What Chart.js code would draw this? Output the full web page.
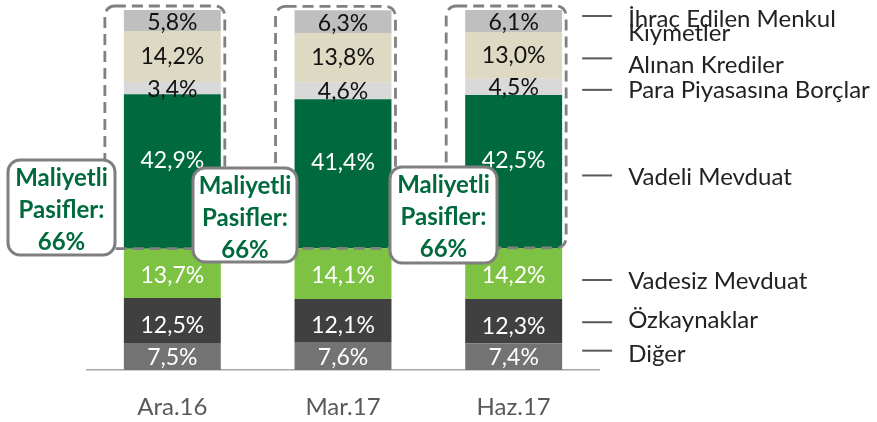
<!DOCTYPE html>
<html><head><meta charset="utf-8">
<script src="https://cdn.jsdelivr.net/npm/chart.js@4.4.1/dist/chart.umd.min.js"></script>
<style>html,body{margin:0;padding:0;background:#fff;}#wrap{width:877px;height:422px;}</style>
</head><body><div id="wrap"><canvas id="c" width="877" height="422"></canvas></div>
<script>
const categories = ['Ara.16', 'Mar.17', 'Haz.17'];
const diger      = [7.5, 7.6, 7.4];
const ozkaynak   = [12.5, 12.1, 12.3];
const vadesiz    = [13.7, 14.1, 14.2];
const vadeli     = [42.9, 41.4, 42.5];
const para       = [3.4, 4.6, 4.5];
const alinan     = [14.2, 13.8, 13.0];
const ihrac      = [5.8, 6.3, 6.1];
const seriesNames = ['Diğer', 'Özkaynaklar', 'Vadesiz Mevduat', 'Vadeli Mevduat', 'Para Piyasasına Borçlar', 'Alınan Krediler', 'İhraç Edilen Menkul Kıymetler'];
const legendLines = [['Diğer'], ['Özkaynaklar'], ['Vadesiz Mevduat'], ['Vadeli Mevduat'], ['Para Piyasasına Borçlar'], ['Alınan Krediler'], ['İhraç Edilen Menkul', 'Kıymetler']];
const calloutText = ['Maliyetli', 'Pasifler:', '66%'];

const colors = ['#737373', '#404040', '#7dc242', '#006a3e', '#d9d9d9', '#ddd9c3', '#bfbfbf'];
const labelColors = ['#fff', '#fff', '#fff', '#fff', '#111', '#111', '#111'];
const labelNudge = [1, 5, 2, -11, 1, 0, 2];
const legendLineNudge = [-6, 1, 6.5, 4, 3, 3, -5];
const legendTextNudge = [-2, -1, 8, 6, 3, 10, -2];
const calloutBoxes = [[8, 160, 107, 95], [193, 168, 104, 94], [390, 167, 107, 96]];
const FONT = 'Lato, "Open Sans", sans-serif';

const allSeries = [diger, ozkaynak, vadesiz, vadeli, para, alinan, ihrac];

const overlay = {
  id: 'overlay',
  afterDatasetsDraw(chart) {
    const ctx = chart.ctx;
    const metas = allSeries.map((_, i) => chart.getDatasetMeta(i));
    // data labels
    ctx.save();
    ctx.font = '23px ' + FONT;
    ctx.textAlign = 'center';
    ctx.textBaseline = 'middle';
    metas.forEach((m, di) => {
      m.data.forEach((el, i) => {
        const v = allSeries[di][i];
        ctx.fillStyle = labelColors[di];
        ctx.fillText(v.toFixed(1).replace('.', ',') + '%', el.x, (el.y + el.base) / 2 + labelNudge[di]);
      });
    });
    ctx.restore();
    // dashed boxes
    ctx.save();
    ctx.strokeStyle = '#808080';
    ctx.lineWidth = 2.8;
    ctx.setLineDash([11, 6]);
    for (let i = 0; i < categories.length; i++) {
      const v = metas[3].data[i];
      const t = metas[6].data[i];
      const l = v.x - v.width / 2 - 19, r = v.x + v.width / 2 + 4;
      const top = t.y - 4, bot = v.base;
      ctx.beginPath();
      ctx.roundRect(l, top, r - l, bot - top, 10);
      ctx.stroke();
    }
    ctx.restore();
    // legend on right
    const last = categories.length - 1;
    ctx.save();
    ctx.font = '24px ' + FONT;
    ctx.textBaseline = 'middle';
    ctx.textAlign = 'left';
    metas.forEach((m, di) => {
      const el = m.data[last];
      const mid = (el.y + el.base) / 2;
      const xr = el.x + el.width / 2;
      const ly = mid + legendLineNudge[di];
      ctx.strokeStyle = '#595959';
      ctx.lineWidth = 2;
      ctx.beginPath();
      ctx.moveTo(xr + 20, ly);
      ctx.lineTo(xr + 50, ly);
      ctx.stroke();
      ctx.fillStyle = '#222';
      const lines = legendLines[di];
      const ty = mid + legendTextNudge[di];
      lines.forEach((s, k) => ctx.fillText(s, xr + 66, ty + k * 14));
    });
    ctx.restore();
    // callouts
    ctx.save();
    calloutBoxes.forEach(b => {
      ctx.beginPath();
      ctx.roundRect(b[0], b[1], b[2], b[3], 12);
      ctx.fillStyle = '#fff';
      ctx.fill();
      ctx.strokeStyle = '#7f7f7f';
      ctx.lineWidth = 3;
      ctx.stroke();
      ctx.fillStyle = '#006a3e';
      ctx.font = 'bold 24px ' + FONT;
      ctx.textAlign = 'center';
      ctx.textBaseline = 'middle';
      calloutText.forEach((s, k) => ctx.fillText(s, b[0] + b[2] / 2, b[1] + 18 + k * 32));
    });
    ctx.restore();
  }
};

new Chart(document.getElementById('c'), {
  type: 'bar',
  data: {
    labels: categories,
    datasets: allSeries.map((d, i) => ({
      label: seriesNames[i],
      data: d,
      backgroundColor: colors[i],
      borderWidth: 0,
      categoryPercentage: 1,
      barPercentage: 0.568
    }))
  },
  options: {
    responsive: false,
    animation: false,
    layout: { padding: { left: 87, right: 278, top: 10, bottom: 2 } },
    plugins: { legend: { display: false }, tooltip: { enabled: false } },
    scales: {
      x: {
        stacked: true,
        grid: { display: false, drawTicks: false },
        border: { display: true, color: '#a6a6a6', width: 1.5 },
        ticks: { color: '#595959', font: { family: FONT, size: 24 }, padding: 23 },
        afterFit(scale) { scale.height = 50; }
      },
      y: { stacked: true, display: false, min: 0, max: 100 }
    }
  },
  plugins: [overlay]
});
</script>
</body></html>
